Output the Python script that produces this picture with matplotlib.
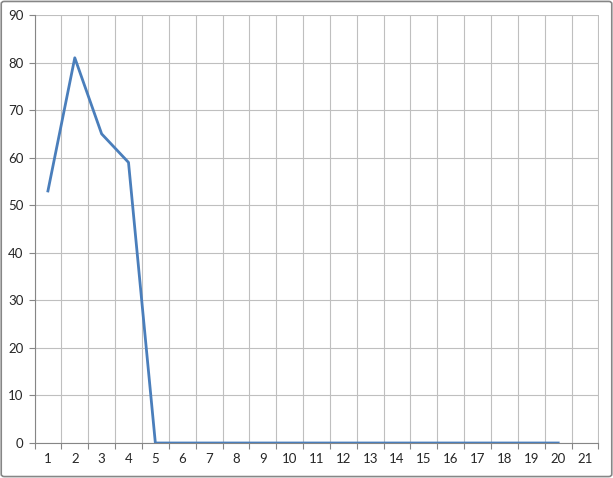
import matplotlib.pyplot as plt
from matplotlib.patches import FancyBboxPatch

categories = list(range(1, 22))
points = list(range(1, 21))
values = [53, 81, 65, 59, 0, 0, 0, 0, 0, 0, 0, 0, 0, 0, 0, 0, 0, 0, 0, 0]

plt.rcParams['font.family'] = ['Lato', 'DejaVu Sans']

fig = plt.figure(figsize=(6.13, 4.78), dpi=100)
ax = fig.add_axes([34.5 / 613, 35 / 478, 564 / 613, 428 / 478])

ax.plot(points, values, color='#4A7EBB', linewidth=2.0, zorder=3)

ax.set_xlim(0.5, 21.5)
ax.set_ylim(0, 90)
ax.set_yticks(range(0, 91, 10))
ax.set_xticks([c - 0.5 for c in categories] + [21.5])
ax.set_xticklabels([])
ax.set_xticks(categories, minor=True)
ax.set_xticklabels([str(c) for c in categories], minor=True)
ax.tick_params(axis='x', which='minor', length=0, pad=7, labelsize=9.5, labelcolor='#262626')
ax.tick_params(axis='x', which='major', length=4, color='#868686', width=0.8)
ax.tick_params(axis='y', length=4, color='#868686', width=0.8, labelsize=9.5, labelcolor='#262626', pad=4)

ax.grid(True, which='major', color='#BFBFBF', linewidth=0.8)
ax.set_axisbelow(True)
for side in ['top', 'right']:
    ax.spines[side].set_visible(False)
ax.spines['left'].set_color('#868686')
ax.spines['bottom'].set_color('#868686')
ax.spines['left'].set_linewidth(0.8)
ax.spines['bottom'].set_linewidth(0.8)

border = FancyBboxPatch((0.002, 0.003), 0.996, 0.994, boxstyle='round,pad=0,rounding_size=0.005',
                        transform=fig.transFigure, facecolor='none', edgecolor='#868686', linewidth=1.2)
fig.patches.append(border)

plt.savefig('out.png', dpi=100)
plt.close()
